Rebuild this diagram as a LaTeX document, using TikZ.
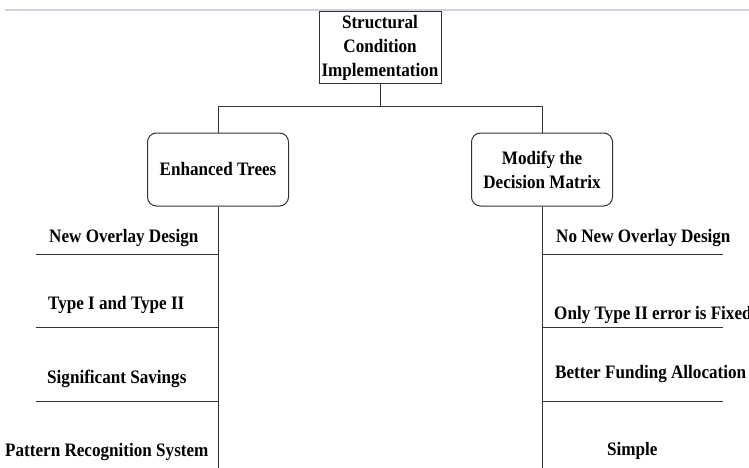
\documentclass[tikz,border=0pt]{standalone}
\usepackage{fontspec}
\setmainfont{Liberation Serif}[FakeStretch=0.9]
\begin{document}
\begin{tikzpicture}[x=1pt,y=-1pt,
  lbl/.style={font=\fontsize{19}{24}\selectfont\bfseries, inner sep=0pt, text=black},
  sqbox/.style={draw=black!80, line width=1pt, fill=white, minimum width=122pt, minimum height=72pt, align=center, inner sep=0pt, font=\fontsize{19}{24}\selectfont\bfseries},
  rbox/.style={sqbox, rounded corners=9pt, minimum width=141pt, minimum height=73pt},
  conn/.style={draw=black!80, line width=1pt}]
\path[use as bounding box] (0,0) rectangle (749,468);
\draw[color={rgb,255:red,200;green,212;blue,232}, line width=1.2pt] (5,10) -- (749,10);

\node[sqbox] (top) at (380,48) {Structural\\Condition\\Implementation};
\node[rbox] (L) at (218,169.5) {Enhanced Trees};
\node[rbox] (R) at (542,169.5) {Modify the\\Decision Matrix};

\coordinate (j) at (380,107);
\coordinate (lb) at (218,470);
\coordinate (rb) at (542,470);
\draw[conn] (top.south) -- (j);
\draw[conn] (j) -| (L.north);
\draw[conn] (j) -| (R.north);
\draw[conn] (L.south) -- (lb);
\draw[conn] (R.south) -- (rb);

\foreach \yy/\nm in {254/a,327.5/b,401/c}{
  \coordinate (l\nm) at (36,\yy);
  \coordinate (lm\nm) at (218,\yy);
  \coordinate (r\nm) at (723,\yy);
  \coordinate (rm\nm) at (542,\yy);
  \draw[conn] (l\nm) -- (lm\nm);
  \draw[conn] (rm\nm) -- (r\nm);
}

\node[lbl, anchor=base west] (t1) at (49,242) {New Overlay Design};
\node[lbl, anchor=base west] (t2) at (48,309) {Type I and Type II};
\node[lbl, anchor=base west] (t3) at (47,383) {Significant Savings};
\node[lbl, anchor=base west] (t4) at (5,456) {Pattern Recognition System};

\node[lbl, anchor=base west] (u1) at (556,242) {No New Overlay Design};
\node[lbl, anchor=base west] (u2) at (554,319) {Only Type II error is Fixed};
\node[lbl, anchor=base west] (u3) at (555,378) {Better Funding Allocation};
\node[lbl, anchor=base west] (u4) at (607,455) {Simple};
\end{tikzpicture}
\end{document}
